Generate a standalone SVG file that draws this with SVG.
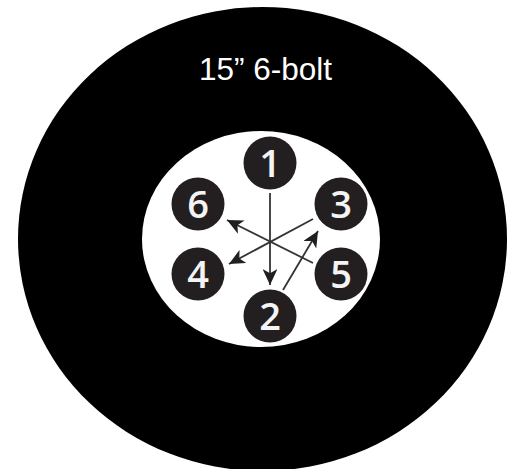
<svg xmlns="http://www.w3.org/2000/svg" width="514" height="469" viewBox="0 0 514 469">
<style>
.n{fill:#231f20}
.t{font-family:"Open Sans","Liberation Sans",sans-serif;font-size:38px;font-weight:600;fill:#f4f4f4;text-anchor:middle}
.c{stroke:#333;stroke-width:1.8;fill:none}
</style>
<defs><marker id="a" markerUnits="userSpaceOnUse" markerWidth="17" markerHeight="14.900" refX="15" refY="7" orient="auto" viewBox="0 0 16 14"><path d="M0 0L15 7L0 14L4 7Z" fill="#231f20"/></marker></defs>
<rect width="514" height="469" fill="#fff"/>
<ellipse id="wheel" cx="262.500" cy="239" rx="244.500" ry="232" fill="#000"/>
<ellipse id="hub" cx="261" cy="239" rx="119" ry="108" fill="#fff"/>
<text id="title" x="265.500" y="80" font-family="Liberation Sans,sans-serif" font-size="31.500" fill="#fff" text-anchor="middle">15” 6-bolt</text>
<g id="connectors">
<path class="c" marker-end="url(#a)" d="M270 193V285"/>
<path class="c" marker-end="url(#a)" d="M313 219L229 264"/>
<path class="c" marker-end="url(#a)" d="M313 263L227 220"/>
<path class="c" marker-end="url(#a)" d="M283 290L318 231"/>
</g>
<g id="n1"><circle class="n" cx="270" cy="163" r="26.500"/><text class="t" x="270" y="176.500">1</text></g>
<g id="n2"><circle class="n" cx="270" cy="316" r="26.500"/><text class="t" x="270" y="330">2</text></g>
<g id="n3"><circle class="n" cx="341" cy="204" r="26.500"/><text class="t" x="341" y="217.500">3</text></g>
<g id="n4"><circle class="n" cx="198" cy="274" r="26.500"/><text class="t" x="198" y="287.500">4</text></g>
<g id="n5"><circle class="n" cx="341" cy="274" r="26.500"/><text class="t" x="341" y="287.500">5</text></g>
<g id="n6"><circle class="n" cx="198" cy="204" r="26.500"/><text class="t" x="198" y="217.500">6</text></g>
</svg>
